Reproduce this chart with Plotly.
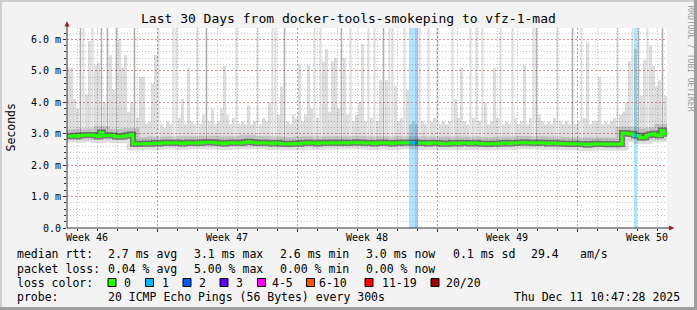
import pandas as pd
import plotly.graph_objects as go

# ---------------- data ----------------
START = pd.Timestamp("2025-11-12 12:00:00")
SPAN_DAYS = 30
STEP_SECONDS = 12960        # one consolidated RRD row (0.15 day)

median_ms = [
    2.92, 2.92, 2.93, 2.92, 2.94, 2.95, 2.96, 2.95, 2.96, 2.94,
    2.91, 3.04, 2.94, 2.95, 2.94, 2.94, 2.91, 2.90, 2.91, 2.93,
    2.95, 2.97, 2.68, 2.67, 2.68, 2.68, 2.69, 2.68, 2.69, 2.70,
    2.69, 2.70, 2.70, 2.71, 2.70, 2.70, 2.71, 2.70, 2.69, 2.70,
    2.71, 2.70, 2.70, 2.71, 2.70, 2.72, 2.73, 2.73, 2.72, 2.71,
    2.70, 2.70, 2.69, 2.70, 2.70, 2.71, 2.70, 2.70, 2.71, 2.73,
    2.74, 2.73, 2.72, 2.70, 2.70, 2.71, 2.70, 2.70, 2.69, 2.70,
    2.70, 2.68, 2.68, 2.67, 2.68, 2.68, 2.69, 2.68, 2.70, 2.70,
    2.71, 2.70, 2.70, 2.69, 2.70, 2.71, 2.70, 2.70, 2.71, 2.70,
    2.70, 2.71, 2.71, 2.70, 2.71, 2.71, 2.72, 2.71, 2.71, 2.70,
    2.70, 2.70, 2.69, 2.70, 2.70, 2.71, 2.70, 2.70, 2.69, 2.70,
    2.70, 2.71, 2.71, 2.71, 2.71, 2.71, 2.71, 2.70, 2.70, 2.70,
    2.69, 2.70, 2.70, 2.70, 2.69, 2.68, 2.68, 2.69, 2.70, 2.70,
    2.69, 2.70, 2.70, 2.70, 2.69, 2.70, 2.70, 2.69, 2.68, 2.68,
    2.67, 2.68, 2.68, 2.68, 2.69, 2.70, 2.70, 2.69, 2.70, 2.70,
    2.71, 2.71, 2.72, 2.71, 2.71, 2.70, 2.71, 2.71, 2.70, 2.70,
    2.69, 2.70, 2.70, 2.69, 2.69, 2.68, 2.68, 2.67, 2.68, 2.68,
    2.67, 2.67, 2.66, 2.65, 2.66, 2.67, 2.68, 2.67, 2.67, 2.67,
    2.66, 2.67, 2.67, 2.66, 2.67, 3.02, 3.01, 3.00, 2.99, 2.94,
    2.93, 2.87, 2.88, 2.94, 2.97, 3.00, 2.96, 2.94, 3.10, 3.00,
]

max_ms = [
    5.1, 5.1, 4.1, 3.8, 6.4, 6.4, 4.25, 5.95, 6.4, 5.2,
    5.25, 6.4, 4.0, 6.4, 5.5, 4.4, 6.4, 6.0, 5.1, 5.5,
    3.7, 4.0, 6.4, 3.5, 4.8, 4.8, 3.3, 3.4, 4.6, 5.5,
    6.4, 3.3, 3.2, 3.4, 3.3, 6.4, 6.4, 3.5, 4.1, 3.3,
    5.1, 3.4, 3.3, 6.4, 3.3, 3.6, 6.4, 3.4, 3.8, 3.3,
    3.4, 3.8, 5.15, 3.6, 3.3, 3.5, 6.4, 3.3, 3.4, 3.3,
    3.9, 3.3, 3.4, 6.4, 3.3, 3.5, 3.4, 4.0, 6.4, 6.4,
    3.6, 4.5, 6.4, 3.4, 3.3, 3.6, 3.5, 5.2, 3.4, 3.6,
    5.2, 3.8, 6.4, 3.5, 6.4, 5.3, 5.7, 3.7, 5.3, 5.4,
    3.8, 6.4, 5.4, 3.6, 6.4, 3.4, 3.6, 4.0, 5.85, 3.4,
    6.4, 3.5, 6.4, 3.4, 4.7, 6.4, 4.7, 6.4, 6.4, 4.5,
    3.4, 3.5, 6.4, 4.4, 3.3, 3.4, 3.3, 6.4, 3.4, 3.3,
    6.4, 3.4, 3.5, 6.4, 3.3, 3.4, 3.3, 3.4, 6.4, 4.1,
    3.5, 5.1, 3.4, 3.3, 6.4, 3.5, 6.4, 3.4, 6.4, 4.0,
    3.3, 3.4, 5.1, 3.5, 6.4, 3.3, 3.4, 3.3, 6.4, 3.5,
    3.3, 3.4, 5.2, 3.3, 3.5, 6.4, 6.4, 3.6, 3.4, 3.3,
    3.4, 3.3, 3.5, 6.4, 3.4, 3.3, 3.4, 3.3, 6.4, 3.3,
    3.4, 6.4, 3.5, 5.9, 3.3, 3.4, 3.4, 4.8, 3.3, 3.4,
    3.3, 3.4, 3.5, 6.4, 3.6, 3.7, 4.0, 5.3, 6.4, 5.7,
    6.4, 4.2, 5.35, 6.4, 5.8, 5.15, 4.5, 4.7, 6.4, 4.2,
]

# column index -> lost pings (of 20)
loss_events = {114: 1, 115: 1, 116: 2, 189: 1}
# darker (multi-ping) spikes: (column index, ms)
dark_spikes = [(4, 6.4), (11, 6.4), (13, 6.4), (16, 6.4), (22, 6.4), (46, 6.4),
               (72, 6.4), (91, 6.4), (105, 6.4), (156, 6.4), (168, 6.4),
               (190, 6.4), (198, 6.4)]

week_labels = ["Week 46", "Week 47", "Week 48", "Week 49", "Week 50"]
week_label_times = ["2025-11-13 12:00", "2025-11-20 12:00", "2025-11-27 12:00",
                    "2025-12-04 12:00", "2025-12-11 12:00"]
y_ticks = [0, 1, 2, 3, 4, 5, 6]
y_tick_text = ["0.0", "1.0 m", "2.0 m", "3.0 m", "4.0 m", "5.0 m", "6.0 m"]

loss_legend = [("0", "#26ff00"), ("1", "#00b8ff"), ("2", "#0059ff"), ("3", "#5e00ff"),
               ("4-5", "#ff00f5"), ("6-10", "#ff5500"), ("11-19", "#ff0000"),
               ("20/20", "#a00000")]
loss_band = {1: "#aee6ff", 2: "#aac8ff"}

rtt_stats = ["2.7 ms avg", "3.1 ms max", "2.6 ms min", "3.0 ms now", "0.1 ms sd", "29.4", "am/s"]
loss_stats = ["0.04 % avg", "5.00 % max", "0.00 % min", "0.00 % now"]
probe_text = "20 ICMP Echo Pings (56 Bytes) every 300s"
stamp_text = "Thu Dec 11 10:47:28 2025"
title_text = "Last 30 Days from docker-tools-smokeping to vfz-1-mad"

# ---------------- layout geometry ----------------
W, H = 697, 310
PL, PR, PT, PB = 67, 30, 28, 82          # plot box x 67..667, y 28..228
PW, PH = W - PL - PR, H - PT - PB
Y_TOP = 6.36
MONO = "DejaVu Sans Mono"


def xp(px):
    return (px - PL) / PW


def yp(py):
    return (H - PB - py) / PH


N = len(median_ms)
DAY_MS = 86400000
step = pd.Timedelta(seconds=STEP_SECONDS)
edges = [(START + step * i).strftime("%Y-%m-%d %H:%M:%S") for i in range(N + 1)]
centers = [(START + step * i + step / 2).strftime("%Y-%m-%d %H:%M:%S") for i in range(N)]
col_w = STEP_SECONDS * 1000

fig = go.Figure()

# light smoke: median .. max
fig.add_trace(go.Bar(
    x=centers, base=median_ms, y=[m - d for m, d in zip(max_ms, median_ms)],
    width=[col_w * (0.7 if m >= 6.3 else 1.0) for m in max_ms],
    marker=dict(color="rgba(0,0,0,0.135)", line=dict(width=0)),
    hoverinfo="skip"))

# darker spikes
fig.add_trace(go.Bar(
    x=[centers[c] for c, _ in dark_spikes],
    base=[median_ms[c] for c, _ in dark_spikes],
    y=[v - median_ms[c] for c, v in dark_spikes],
    width=0.06 * DAY_MS,
    marker=dict(color="rgba(0,0,0,0.2)", line=dict(width=0)),
    hoverinfo="skip"))

med_x = edges
med_y = median_ms + [median_ms[-1]]
# smoke around median (drawn as wide strokes)
fig.add_trace(go.Scatter(x=med_x, y=med_y, mode="lines", line_shape="hv",
                         line=dict(color="rgba(0,0,0,0.13)", width=13), hoverinfo="skip"))
fig.add_trace(go.Scatter(x=med_x, y=med_y, mode="lines", line_shape="hv",
                         line=dict(color="rgba(40,40,40,0.55)", width=6), hoverinfo="skip"))
fig.add_trace(go.Scatter(x=med_x, y=med_y, mode="lines", line_shape="hv",
                         line=dict(color="#26ff00", width=3), hoverinfo="skip"))
for c, lv in loss_events.items():
    col = loss_legend[lv][1]
    fig.add_trace(go.Scatter(x=[edges[c], edges[c + 1]], y=[median_ms[c], median_ms[c]],
                             mode="lines", line=dict(color=col, width=3), hoverinfo="skip"))

shapes = []
# loss background bars
for c, lv in loss_events.items():
    shapes.append(dict(type="rect", xref="x", yref="paper", x0=edges[c], x1=edges[c + 1],
                       y0=0, y1=1, fillcolor=loss_band[lv], line=dict(width=0),
                       layer="below"))

AX = "#333333"
ARROW = "#9e1f1f"
# axes with arrows
shapes.append(dict(type="line", xref="paper", yref="paper", x0=xp(67), x1=xp(67),
                   y0=yp(228), y1=yp(25), line=dict(color=AX, width=1)))
shapes.append(dict(type="line", xref="paper", yref="paper", x0=xp(67), x1=xp(670),
                   y0=yp(228), y1=yp(228), line=dict(color=AX, width=1)))
shapes.append(dict(type="path", xref="paper", yref="paper",
                   path=f"M {xp(67)},{yp(21)} L {xp(64.5)},{yp(26.5)} L {xp(69.5)},{yp(26.5)} Z",
                   fillcolor=ARROW, line=dict(width=0)))
shapes.append(dict(type="path", xref="paper", yref="paper",
                   path=f"M {xp(674.5)},{yp(228)} L {xp(669)},{yp(225.5)} L {xp(669)},{yp(230.5)} Z",
                   fillcolor=ARROW, line=dict(width=0)))
# 3D frame
shapes.append(dict(type="rect", xref="paper", yref="paper", x0=xp(0), x1=xp(697), y0=yp(0), y1=yp(2),
                   fillcolor="#cfcfcf", line=dict(width=0)))
shapes.append(dict(type="rect", xref="paper", yref="paper", x0=xp(0), x1=xp(2), y0=yp(0), y1=yp(310),
                   fillcolor="#cfcfcf", line=dict(width=0)))
shapes.append(dict(type="rect", xref="paper", yref="paper", x0=xp(694), x1=xp(697), y0=yp(0), y1=yp(310),
                   fillcolor="#9e9e9e", line=dict(width=0)))
shapes.append(dict(type="rect", xref="paper", yref="paper", x0=xp(0), x1=xp(697), y0=yp(307), y1=yp(310),
                   fillcolor="#9e9e9e", line=dict(width=0)))

# legend squares (loss colors)
sq_x = [108, 145.5, 183, 220, 257.5, 306.5, 365, 431]
lab_x = [123, 161, 197.5, 234.5, 271, 318, 381, 445]
for (lab, colr), sx in zip(loss_legend, sq_x):
    shapes.append(dict(type="rect", xref="paper", yref="paper", x0=xp(sx), x1=xp(sx + 8),
                       y0=yp(278.5), y1=yp(286.5), fillcolor=colr,
                       line=dict(color="#000000", width=1)))

annotations = []


def txt(px, py, s, size=11.5, anchor="left", color="#000000", angle=0, family=MONO):
    annotations.append(dict(x=xp(px), y=yp(py), xref="paper", yref="paper", text=s,
                            showarrow=False, xanchor=anchor, yanchor="middle",
                            textangle=angle, borderpad=0,
                            font=dict(family=family, size=size, color=color)))


txt(348, 18.5, title_text, size=13, anchor="center")
txt(690.5, 58, "RRDTOOL / TOBI OETIKER", size=8, anchor="center", color="#9a9a9a", angle=90)
txt(10.5, 128, "Seconds", size=11.5, anchor="center", angle=-90)

for lab, t in zip(week_labels, week_label_times):
    annotations.append(dict(x=t, y=yp(237.5), xref="x", yref="paper", text=lab, showarrow=False,
                            xanchor="center", yanchor="middle", borderpad=0,
                            font=dict(family=MONO, size=10, color="#000000")))

row_y = [254, 268.5, 282.5, 297]
txt(15.5, row_y[0], "median rtt:")
for s, x in zip(rtt_stats, [107, 193, 279, 365, 451.5, 530, 579]):
    txt(x, row_y[0], s)
txt(15.5, row_y[1], "packet loss:")
for s, x in zip(loss_stats, [107, 193, 279, 365]):
    txt(x, row_y[1], s)
txt(15.5, row_y[2], "loss color:")
for (lab, _), x in zip(loss_legend, lab_x):
    txt(x, row_y[2], lab)
txt(15.5, row_y[3], "probe:")
txt(107, row_y[3], probe_text)
txt(680.5, row_y[3], stamp_text, anchor="right")

MGRID = "rgba(222,110,110,0.75)"
GRID = "rgba(150,150,150,0.55)"

fig.update_layout(
    width=W, height=H, autosize=False,
    margin=dict(l=PL, r=PR, t=PT, b=PB, pad=0),
    paper_bgcolor="#f3f3f3", plot_bgcolor="#ffffff",
    showlegend=False, barmode="overlay",
    shapes=shapes, annotations=annotations,
    xaxis=dict(type="date",
               range=[START.strftime("%Y-%m-%d %H:%M:%S"),
                      (START + pd.Timedelta(days=SPAN_DAYS)).strftime("%Y-%m-%d %H:%M:%S")],
               tick0="2025-11-17", dtick=7 * DAY_MS,
               showgrid=True, gridcolor=MGRID, griddash="2px,2px", gridwidth=1,
               showticklabels=False, ticks="outside", ticklen=3, tickcolor=AX,
               showline=False, zeroline=False, fixedrange=True,
               minor=dict(tick0="2025-11-13", dtick=DAY_MS, showgrid=True, gridcolor=GRID,
                          griddash="1px,2px", ticks="outside", ticklen=2, tickcolor=AX)),
    yaxis=dict(range=[0, Y_TOP], tickmode="array", tickvals=y_ticks, ticktext=y_tick_text,
               showgrid=True, gridcolor=MGRID, griddash="2px,2px", gridwidth=1,
               ticks="outside", ticklen=3, tickcolor=AX,
               tickfont=dict(family=MONO, size=10, color="#000000"),
               showline=False, zeroline=False, fixedrange=True,
               minor=dict(tickmode="array", tickvals=[v / 5 for v in range(1, 32) if v % 5],
                          showgrid=True, gridcolor=GRID, griddash="1px,2px",
                          ticks="outside", ticklen=2, tickcolor=AX)),
)

fig.write_html("out.html", include_plotlyjs=True, config={"displayModeBar": False})
